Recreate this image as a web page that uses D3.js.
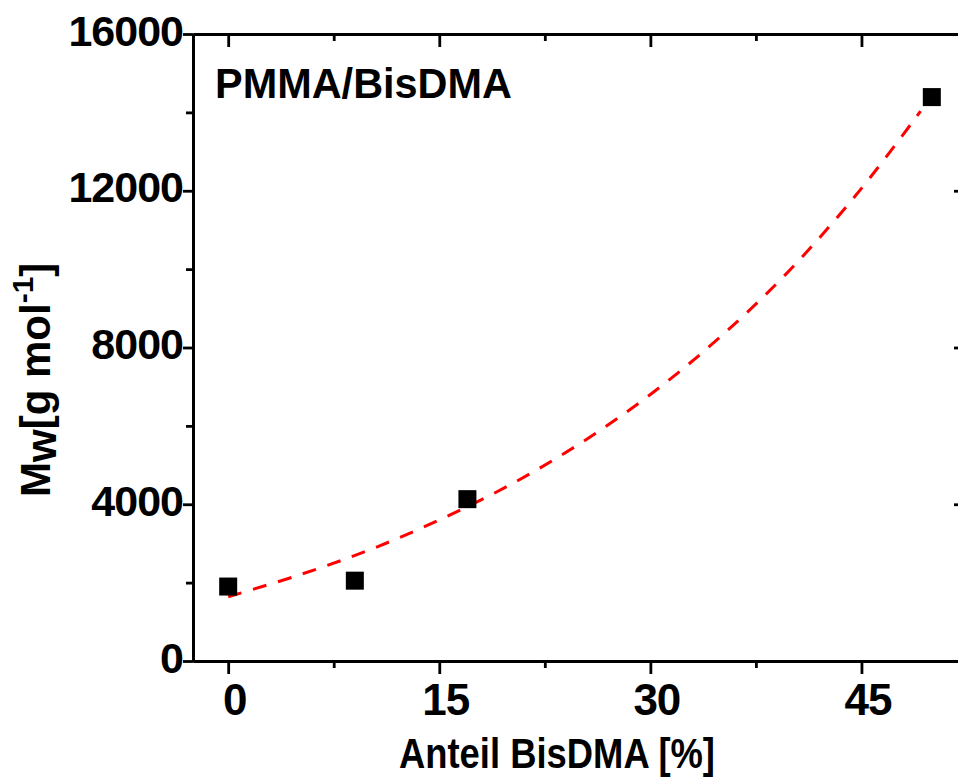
<!DOCTYPE html>
<html>
<head>
<meta charset="utf-8">
<script src="https://cdn.jsdelivr.net/npm/d3@7"></script>
<style>
  body { margin: 0; background: #fff; }
  svg { display: block; font-family: "Liberation Sans", Arial, sans-serif; font-weight: bold; }
</style>
</head>
<body>
<svg id="chart" width="958" height="778"></svg>
<script>
// measured points
var anteil = [0, 9, 17, 50];
var mw = [1900, 2050, 4130, 14390];

// dashed fit curve
var fitX = [0, 5, 10, 15, 20, 25, 30, 35, 40, 45, 49.2];
var fitY = [1640, 2190, 2830, 3600, 4490, 5550, 6800, 8280, 10010, 12060, 14030];

var xMajor = [0, 15, 30, 45];
var xMinor = [7.5, 22.5, 37.5, 52.5];
var yMajor = [0, 4000, 8000, 12000, 16000];
var yMinor = [2000, 6000, 10000, 14000];

var svg = d3.select("#chart");

var x = d3.scaleLinear().domain([-2.5, 52.5]).range([193, 967]);
var y = d3.scaleLinear().domain([0, 16000]).range([661, 34]);

function styleAxis(g) {
  g.selectAll("path").attr("stroke", "#000").attr("stroke-width", 3);
  g.selectAll("line").attr("stroke", "#000").attr("stroke-width", 2.8);
}

// bottom
var gb = svg.append("g").attr("transform", "translate(0,661)")
  .call(d3.axisBottom(x).tickValues(xMajor).tickSize(13).tickSizeOuter(0).tickFormat(d3.format("d")));
gb.call(styleAxis);
gb.selectAll("text").attr("y", 54).attr("dy", null).attr("dx", 6)
  .attr("font-size", 44).attr("fill", "#000").attr("font-family", null)
  .attr("letter-spacing", -1);
svg.append("g").attr("transform", "translate(0,661)")
  .call(d3.axisBottom(x).tickValues(xMinor).tickSize(7).tickSizeOuter(0).tickFormat(""))
  .call(styleAxis);

// top
svg.append("g").attr("transform", "translate(0,34)")
  .call(d3.axisTop(x).tickValues(xMajor).tickSize(-13).tickSizeOuter(0).tickFormat(""))
  .call(styleAxis);
svg.append("g").attr("transform", "translate(0,34)")
  .call(d3.axisTop(x).tickValues(xMinor).tickSize(-7).tickSizeOuter(0).tickFormat(""))
  .call(styleAxis);

// left
var gl = svg.append("g").attr("transform", "translate(193,0)")
  .call(d3.axisLeft(y).tickValues(yMajor).tickSize(10).tickPadding(0).tickSizeOuter(0).tickFormat(d3.format("d")));
gl.call(styleAxis);
gl.selectAll("text").attr("dy", "0.26em")
  .attr("font-size", 43).attr("fill", "#000").attr("font-family", null)
  .attr("letter-spacing", -1);
svg.append("g").attr("transform", "translate(193,0)")
  .call(d3.axisLeft(y).tickValues(yMinor).tickSize(7).tickSizeOuter(0).tickFormat(""))
  .call(styleAxis);

// right
svg.append("g").attr("transform", "translate(967,0)")
  .call(d3.axisRight(y).tickValues(yMajor).tickSize(-13).tickSizeOuter(0).tickFormat(""))
  .call(styleAxis);
svg.append("g").attr("transform", "translate(967,0)")
  .call(d3.axisRight(y).tickValues(yMinor).tickSize(-7).tickSizeOuter(0).tickFormat(""))
  .call(styleAxis);

// fit curve
var line = d3.line()
  .x(function (d, i) { return x(fitX[i]); })
  .y(function (d) { return y(d); })
  .curve(d3.curveCatmullRom);
svg.append("path").datum(fitY)
  .attr("d", line)
  .attr("fill", "none")
  .attr("stroke", "#ff0000")
  .attr("stroke-width", 3)
  .attr("stroke-dasharray", "14,12");

// points
var sq = 18;
svg.selectAll("rect.pt").data(mw).enter().append("rect")
  .attr("class", "pt")
  .attr("x", function (d, i) { return x(anteil[i]) - sq / 2; })
  .attr("y", function (d) { return y(d) - sq / 2; })
  .attr("width", sq).attr("height", sq)
  .attr("fill", "#000");

// panel label
svg.append("text").attr("x", 215).attr("y", 98)
  .attr("font-size", 42).attr("textLength", 297).attr("lengthAdjust", "spacingAndGlyphs")
  .text("PMMA/BisDMA");

// x title
svg.append("text").attr("x", 399).attr("y", 768)
  .attr("font-size", 43).attr("textLength", 316).attr("lengthAdjust", "spacingAndGlyphs")
  .text("Anteil BisDMA [%]");

// y title
var yt = svg.append("text")
  .attr("transform", "translate(50,497) rotate(-90)")
  .attr("font-size", 42);
yt.append("tspan").text("M");
yt.append("tspan").attr("dy", 6).text("w");
yt.append("tspan").attr("dy", -6).text("[g mol");
yt.append("tspan").attr("dy", -17).attr("font-size", 30).text("-1");
yt.append("tspan").attr("dy", 17).text("]");
</script>
</body>
</html>
